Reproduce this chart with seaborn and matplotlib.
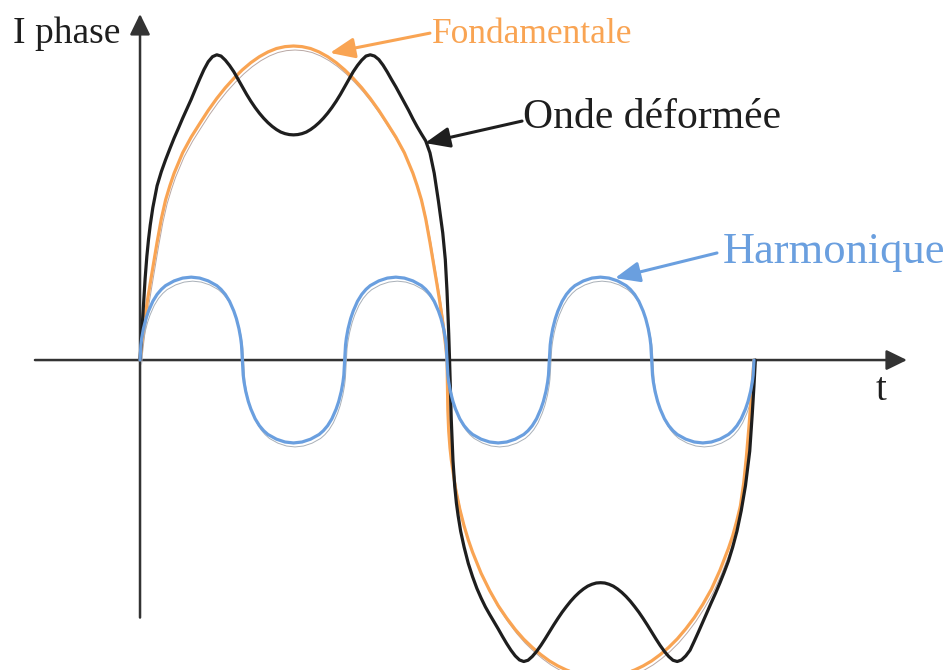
import matplotlib
matplotlib.use("Agg")
import matplotlib.pyplot as plt
import matplotlib.transforms as mtransforms
import seaborn as sns

# points: t in electrical degrees, current in % of fundamental peak

# fundamental
t_fond = [0, 0.5, 1, 2, 3, 4.5, 6, 8, 10, 12.5, 15, 17.5, 20,
          25, 30, 35, 40, 45, 50, 55, 60, 65, 70, 75, 80, 85, 90,
          95, 100, 105, 110, 115, 120, 125, 130, 135, 140, 145, 150, 155, 160,
          162.5, 165, 167.5, 170, 172, 174, 175.5, 177, 178, 179, 179.5, 180,
          180.5, 181, 181.75, 182.5, 185, 187.5, 190, 192.5, 195, 200, 205, 210, 215, 220, 225,
          230, 235, 240, 245, 250, 255, 260, 265, 270,
          275, 280, 285, 290, 295, 300, 305, 310, 315, 320, 325, 330, 335, 340,
          342.5, 345, 347.5, 350, 352, 354, 355.5, 357, 358, 359, 359.5, 360]
i_fond = [0, 3, 5.5, 10, 14, 19.5, 24.5, 31, 37.5, 45, 51, 55.5, 59.5,
          66, 71, 75.3, 79.5, 83.3, 86.7, 89.7, 92.4, 94.7, 96.6, 98.1, 99.2, 99.8, 100,
          99.8, 99.2, 98.1, 96.6, 94.7, 92.4, 89.7, 86.7, 83.3, 79.5, 75.3, 71, 66, 59.5,
          55.5, 51, 45, 37.5, 31, 24.5, 19.5, 14, 10, 5.5, 3, 0,
          -16, -22.6, -28, -31.7, -40.9, -47.5, -52.8, -57.3, -61.2, -67.9, -73.4, -78.2, -82.2, -85.8, -88.9,
          -91.5, -93.8, -95.8, -97.4, -98.7, -99.7, -100.4, -100.9, -101,
          -100.9, -100.4, -99.7, -98.7, -97.4, -95.8, -93.8, -91.5, -88.8, -85.6, -82, -77.8, -73, -67,
          -63.5, -60, -56, -51, -46.5, -39, -31, -21.5, -14.5, -7.4, -3.7, 0]

# distorted wave
t_def = [0, 0.5, 1, 2, 3, 4, 5, 6, 7.5, 10, 12.5, 15, 17.5, 20, 22.5, 25, 27.5, 30, 32.5, 35, 37.5,
         40, 42.5, 45, 47.5, 50, 52.5, 55, 57.5, 60, 62.5, 65, 67.5, 70, 72.5, 75, 77.5, 80, 82.5, 85, 87.5, 90,
         92.5, 95, 97.5, 100, 102.5, 105, 107.5, 110, 112.5, 115, 117.5, 120, 122.5, 125, 127.5, 130, 132.5, 135,
         137.5, 140, 142.5, 145, 147.5, 150, 152.5, 155, 157.5, 160, 162.5, 165, 167.5, 170, 172.5, 175,
         177.5, 179, 180, 181, 181.5,
         182, 182.5, 183.5, 184.5, 185.5, 186.5, 188, 190, 192.5, 195, 197.5, 200, 202.5, 205, 207.5, 210,
         212.5, 215, 217.5, 220, 222.5, 225, 227.5, 230, 232.5, 235, 237.5, 240, 242.5, 245, 247.5, 250,
         252.5, 255, 257.5, 260, 262.5, 265, 267.5, 270,
         272.5, 275, 277.5, 280, 282.5, 285, 287.5, 290, 292.5, 295, 297.5, 300, 302.5, 305, 307.5, 310,
         312.5, 315, 317.5, 320, 322.5, 325, 327.5, 330, 332.5, 335, 337.5, 340, 342.5, 345, 347.5, 350,
         352.5, 355, 357.5, 359, 360, 360.8]
i_def = [0, 4.5, 8.5, 17, 26, 33, 38.5, 43, 48.5, 55.5, 60, 63.8, 67.3, 70.7, 73.8, 77, 80, 83, 86.3, 89.5, 92.5,
         95, 96.6, 97.2, 96.8, 95.5, 93.8, 91.8, 89.4, 87, 84.6, 82.4, 80.4, 78.6, 77, 75.6, 74.4, 73.4, 72.6, 72.1,
         71.8, 71.7,
         71.8, 72.1, 72.6, 73.4, 74.4, 75.6, 77, 78.6, 80.4, 82.4, 84.6, 87, 89.4, 91.8, 93.8, 95.5, 96.8, 97.2,
         96.8, 95.7, 93.9, 91.7, 89.3, 87, 84.5, 82, 79.5, 76.8, 74.3, 72, 69.8, 66, 59.5, 50.5,
         40.5, 32, 22, 8.5, 0,
         -10, -19, -32, -40, -45.5, -49.5, -54.5, -59.5, -64.8, -69, -72.7, -75.8, -78.6, -81, -83.3, -85.6,
         -88, -90.3, -92.4, -94.2, -95.5, -96, -95.6, -94.4, -92.8, -90.9, -88.8, -86.6, -84.4, -82.3, -80.3, -78.5,
         -76.8, -75.3, -74, -72.9, -72, -71.4, -71, -70.9,
         -71, -71.4, -72, -72.9, -74, -75.3, -76.8, -78.5, -80.3, -82.3, -84.4, -86.6, -88.8, -90.9, -92.8, -94.4,
         -95.6, -96, -95.5, -94.2, -92.4, -89.5, -86.5, -83.4, -80.3, -77.2, -74.2, -71, -67.6, -64, -59.6, -54.5,
         -48, -40, -29, -17, -8, 0]

# 3rd harmonic
t_harm = [0, 0.5, 1, 2, 3.5, 5, 7.5, 10, 12.5, 15, 20, 25, 30, 35, 40, 45, 47.5, 50, 52.5, 55, 56.5, 58, 59, 59.5,
          60, 60.5, 61, 62, 63.5, 65, 67.5, 70, 72.5, 75, 80, 85, 90, 95, 100, 105, 107.5, 110, 112.5, 115, 116.5,
          118, 119, 119.5,
          120, 120.5, 121, 122, 123.5, 125, 127.5, 130, 132.5, 135, 140, 145, 150, 155, 160, 165, 167.5, 170, 172.5,
          175, 176.5, 178, 179, 179.5,
          180, 180.5, 181, 182, 183.5, 185, 187.5, 190, 192.5, 195, 200, 205, 210, 215, 220, 225, 227.5, 230, 232.5,
          235, 236.5, 238, 239, 239.5,
          240, 240.5, 241, 242, 243.5, 245, 247.5, 250, 252.5, 255, 260, 265, 270, 275, 280, 285, 287.5, 290, 292.5,
          295, 296.5, 298, 299, 299.5,
          300, 300.5, 301, 302, 303.5, 305, 307.5, 310, 312.5, 315, 320, 325, 330, 335, 340, 345, 347.5, 350, 352.5,
          355, 356.5, 358, 359, 359.5,
          360]
i_harm = [0, 4.8, 7.0, 10.0, 13.2, 15.6, 18.7, 20.9, 22.5, 23.7, 25.2, 26.1, 26.4, 26.1, 25.2, 23.7, 22.5, 20.9,
          18.7, 15.6, 13.2, 10.0, 7.0, 4.8,
          0, -4.8, -7.0, -10.0, -13.2, -15.6, -18.7, -20.9, -22.5, -23.7, -25.2, -26.1, -26.4, -26.1, -25.2, -23.7,
          -22.5, -20.9, -18.7, -15.6, -13.2, -10.0, -7.0, -4.8,
          0, 4.8, 7.0, 10.0, 13.2, 15.6, 18.7, 20.9, 22.5, 23.7, 25.2, 26.1, 26.4, 26.1, 25.2, 23.7, 22.5, 20.9,
          18.7, 15.6, 13.2, 10.0, 7.0, 4.8,
          0, -4.8, -7.0, -10.0, -13.2, -15.6, -18.7, -20.9, -22.5, -23.7, -25.2, -26.1, -26.4, -26.1, -25.2, -23.7,
          -22.5, -20.9, -18.7, -15.6, -13.2, -10.0, -7.0, -4.8,
          0, 4.8, 7.0, 10.0, 13.2, 15.6, 18.7, 20.9, 22.5, 23.7, 25.2, 26.1, 26.4, 26.1, 25.2, 23.7, 22.5, 20.9,
          18.7, 15.6, 13.2, 10.0, 7.0, 4.8,
          0, -4.8, -7.0, -10.0, -13.2, -15.6, -18.7, -20.9, -22.5, -23.7, -25.2, -26.1, -26.4, -26.1, -25.2, -23.7,
          -22.5, -20.9, -18.7, -15.6, -13.2, -10.0, -7.0, -4.8,
          0]

ORANGE = "#f9a453"
BLUE = "#6a9fdf"
BLACK = "#1e1e1e"
AXIS = "#333333"


def main():
    sns.set_theme(style="white")
    plt.rcParams["font.family"] = ["Liberation Serif", "DejaVu Serif"]

    fig = plt.figure(figsize=(9.52, 6.70), dpi=100)
    ax = fig.add_axes([0, 0, 1, 1])
    ax.set_xlim(-82.1, 476.1)
    ax.set_ylim(-98.7, 114.65)
    ax.axis("off")

    # axes with arrow heads
    axis_arrow = dict(arrowstyle="-|>,head_length=0.45,head_width=0.22", color=AXIS, lw=1.8,
                      mutation_scale=28, shrinkA=0, shrinkB=0)
    ax.annotate("", xy=(449.7, 0), xytext=(-61.6, 0), arrowprops=axis_arrow, zorder=1)
    ax.annotate("", xy=(0, 110.2), xytext=(0, -82.0), arrowprops=axis_arrow, zorder=1)

    # faint shadow copies slightly below the coloured curves
    shadow = mtransforms.offset_copy(ax.transData, fig=fig, x=1.5, y=-4, units="dots")
    for t, i, c in [(t_fond, i_fond, "#b9a8a4"), (t_harm, i_harm, "#a9b0b8")]:
        sns.lineplot(x=t, y=i, ax=ax, color=c, linewidth=0.7, sort=False, estimator=None, zorder=2)
        ax.lines[-1].set_transform(shadow)

    line_kw = dict(linewidth=2.3, sort=False, estimator=None, solid_joinstyle="round")
    sns.lineplot(x=t_fond, y=i_fond, ax=ax, color=ORANGE, zorder=3, **line_kw)
    sns.lineplot(x=t_def, y=i_def, ax=ax, color=BLACK, zorder=3, **line_kw)
    sns.lineplot(x=t_harm, y=i_harm, ax=ax, color=BLUE, zorder=4, **line_kw)

    # labels
    ax.text(-74.5, 101.0, "I phase", fontsize=27, color=BLACK, ha="left", va="baseline")
    ax.text(434.4, -12.7, "t", fontsize=28, color=BLACK, ha="center", va="baseline")

    label_arrow = dict(arrowstyle="-|>,head_length=0.6,head_width=0.25", lw=2.2,
                       mutation_scale=25, shrinkA=0, shrinkB=0)
    ax.text(171.2, 101.0, "Fondamentale", fontsize=25.5, color=ORANGE, ha="left", va="baseline")
    ax.annotate("", xy=(111.4, 97.8), xytext=(170.0, 104.1), arrowprops={**label_arrow, "color": ORANGE})

    ax.text(224.6, 73.9, "Onde déformée", fontsize=30, color=BLACK, ha="left", va="baseline")
    ax.annotate("", xy=(167.1, 69.1), xytext=(224.0, 76.1), arrowprops={**label_arrow, "color": BLACK})

    ax.text(341.8, 30.9, "Harmonique", fontsize=32, color=BLUE, ha="left", va="baseline")
    ax.annotate("", xy=(278.5, 26.1), xytext=(338.3, 34.1), arrowprops={**label_arrow, "color": BLUE})

    fig.savefig("out.png", dpi=100)
    plt.close(fig)


if __name__ == "__main__":
    main()
